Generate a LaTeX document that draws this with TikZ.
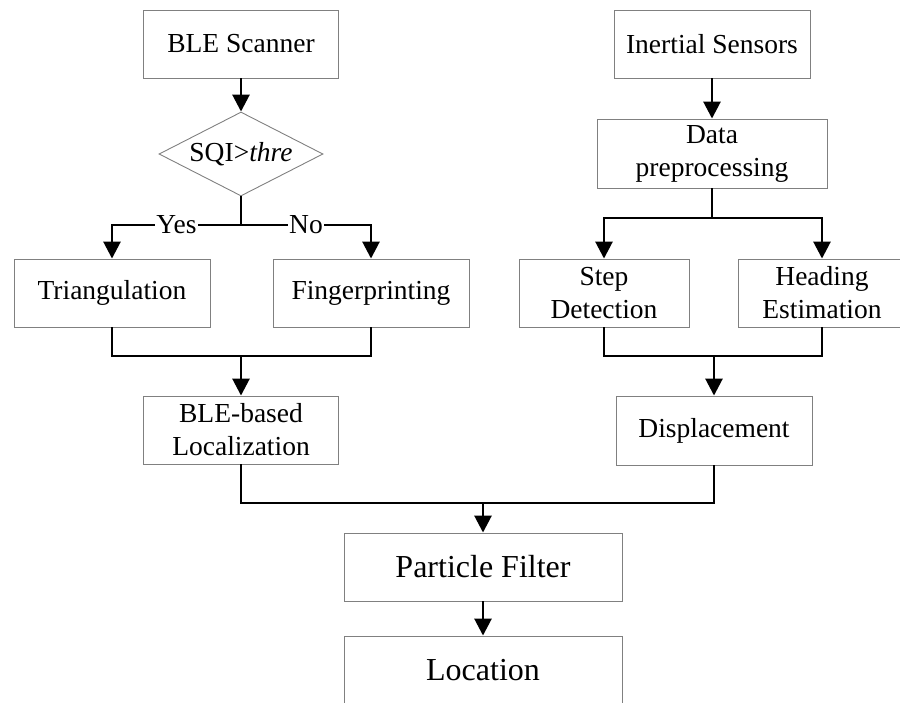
\documentclass[tikz,border=0pt]{standalone}
\usepackage{fontspec}
\setmainfont{Liberation Serif}
\usetikzlibrary{arrows.meta,positioning,shapes.geometric}

\begin{document}
\begin{tikzpicture}[x=1pt,y=-1pt,
  box/.style={draw=black!50,line width=0.9pt,minimum height=68pt,align=center,
    inner sep=2pt,font=\fontsize{27.5}{33}\selectfont},
  bigbox/.style={box,font=\fontsize{32}{38}\selectfont},
  line/.style={line width=2.8pt},
  arr/.style={line,-{Triangle[length=17pt,width=17pt]}},
  lbl/.style={fill=white,inner sep=1pt,font=\fontsize{27.5}{33}\selectfont}]
  \useasboundingbox (0,0) rectangle (900,702);
  % BLE branch
  \node[box,minimum width=195pt] (scan) at (241,44) {BLE Scanner};
  \node[draw=black!50,line width=0.9pt,diamond,aspect=2,minimum width=164pt,
    minimum height=84pt,inner sep=0pt,font=\fontsize{27.5}{33}\selectfont] (sqi) at (241,154) {SQI>\textit{thre}};
  \node[box,minimum width=196pt] (tri) at (112,293) {Triangulation};
  \node[box,minimum width=196pt] (fp) at (371,293) {Fingerprinting};
  \node[box,minimum width=195pt] (ble) at (241,430) {BLE-based\\Localization};
  % inertial branch
  \node[box,minimum width=196pt] (ins) at (712,44) {Inertial Sensors};
  \node[box,minimum width=230pt,minimum height=69pt] (pre) at (712,153.5) {Data\\preprocessing};
  \node[box,minimum width=170pt] (stp) at (604,293) {Step\\Detection};
  \node[box,minimum width=168pt] (hdg) at (822,293) {Heading\\Estimation};
  \node[box,minimum width=196pt,minimum height=69pt] (disp) at (714,430.5) {Displacement};
  % fusion
  \node[bigbox,minimum width=278pt] (pf) at (483,567) {Particle Filter};
  \node[bigbox,minimum width=278pt] (loc) at (483,670) {Location};

  \coordinate (yn) at (241,225);
  \coordinate (bm) at (241,356);
  \coordinate (sh) at (712,218);
  \coordinate (dm) at (714,356);
  \coordinate (fm) at (483,503);

  \draw[arr] (scan) -- (sqi);
  \draw[line] (sqi) -- (yn);
  \draw[arr] (yn) -| node[lbl,pos=0.25]{Yes} (tri);
  \draw[arr] (yn) -| node[lbl,pos=0.25]{No} (fp);
  \draw[line] (tri) |- (bm) -| (fp);
  \draw[arr] (bm) -- (ble);

  \draw[arr] (ins) -- (pre);
  \draw[line] (pre) -- (sh);
  \draw[arr] (sh) -| (stp);
  \draw[arr] (sh) -| (hdg);
  \draw[line] (stp) |- (dm) -| (hdg);
  \draw[arr] (dm) -- (disp);

  \draw[line] (ble) |- (fm) -| (disp);
  \draw[arr] (fm) -- (pf);
  \draw[arr] (pf) -- (loc);
\end{tikzpicture}
\end{document}
